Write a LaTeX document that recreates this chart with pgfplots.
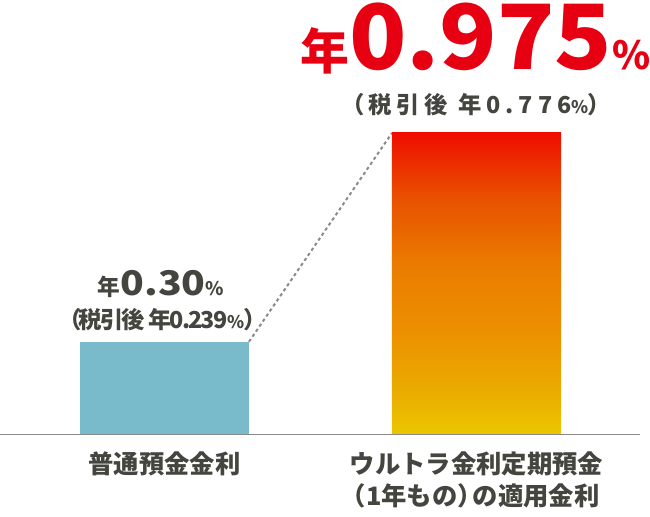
\documentclass[border=0pt]{standalone}
\usepackage{fontspec}
\setmainfont{Noto Sans CJK JP}
\newfontfamily\jpp{Noto Sans CJK JP}[RawFeature=+palt, LetterSpace=-8]
\newfontfamily\jppwide{Noto Sans CJK JP}[RawFeature=+palt, LetterSpace=21]
\usepackage{graphicx}
\usepackage{pgfplots}
\pgfplotsset{compat=1.18}
\definecolor{tealbar}{HTML}{79BBCB}
\definecolor{redtxt}{HTML}{E60012}
\definecolor{darktxt}{HTML}{45453F}
\definecolor{basegray}{HTML}{8A8A8A}
\definecolor{g0}{HTML}{EBC700}
\definecolor{g1}{HTML}{EAAE00}
\definecolor{g2}{HTML}{EC9000}
\definecolor{g3}{HTML}{EA7C00}
\definecolor{g4}{HTML}{E95200}
\definecolor{g5}{HTML}{EE0E00}
\pgfdeclareverticalshading{ultra}{100bp}{color(0bp)=(g0); color(25bp)=(g0); color(31.5bp)=(g1); color(42bp)=(g2); color(53bp)=(g3); color(64bp)=(g4); color(75bp)=(g5); color(100bp)=(g5)}
\begin{document}
\begin{tikzpicture}
\useasboundingbox (0pt,-61.875pt) rectangle (487.5pt,325.875pt);
\begin{axis}[
  at={(0pt,0pt)}, anchor=south west,
  scale only axis, width=480pt, height=325.875pt,
  xmin=-0.527, xmax=1.524, ymin=0, ymax=1.405,
  axis x line=bottom, axis y line=none,
  x axis line style={-, draw=basegray, line width=1.1pt},
  axis on top=true,
  xtick={0,1},
  xticklabels={普通預金金利, {ウルトラ金利定期預金\\\kern-0.5em（1年もの）\kern-0.4em の適用金利}},
  major tick length=0pt,
  xticklabel style={font=\bfseries\fontsize{19}{24}\selectfont, text=darktxt, align=center, yshift=-9.5pt},
  ytick=\empty,
  clip=false,
]
\addplot[basegray, line width=1.5pt, dash pattern=on 2.4pt off 2.2pt] coordinates {(0.27083,0.30) (0.72917,0.975)};
\addplot[ybar, bar width=0.5417, bar shift=0pt, fill=tealbar, draw=none] coordinates {(0,0.30)};
\addplot[ybar, bar width=0.5417, bar shift=0pt, draw=none, shade, shading=ultra] coordinates {(1,0.975)};
\end{axis}
% value labels
\node[anchor=base, text=redtxt, inner sep=0pt] at (356.6pt,273.6pt)
  {\bfseries{\fontsize{36.6}{40}\selectfont 年}\scalebox{1.05}[1]{\fontsize{67.5}{70}\selectfont 0.975}{\fontsize{29}{30}\selectfont\%}};
\node[anchor=base, text=darktxt, inner sep=0pt] at (357pt,240.9pt)
  {\jppwide\bfseries\fontsize{17.5}{20}\selectfont（税引後 年0.776{\fontsize{13}{14}\selectfont\%}）};
\node[anchor=base, text=darktxt, inner sep=0pt] at (120.75pt,104.6pt)
  {\bfseries{\fontsize{17}{20}\selectfont 年}\scalebox{1.15}[1]{\fontsize{25.5}{28}\selectfont 0.30}{\fontsize{14}{16}\selectfont\%}};
\node[anchor=base, text=darktxt, inner sep=0pt] at (121.9pt,79.6pt)
  {\jpp\bfseries\fontsize{17.5}{20}\selectfont（税引後 年0.239{\fontsize{13}{14}\selectfont\%}）};
\end{tikzpicture}
\end{document}
